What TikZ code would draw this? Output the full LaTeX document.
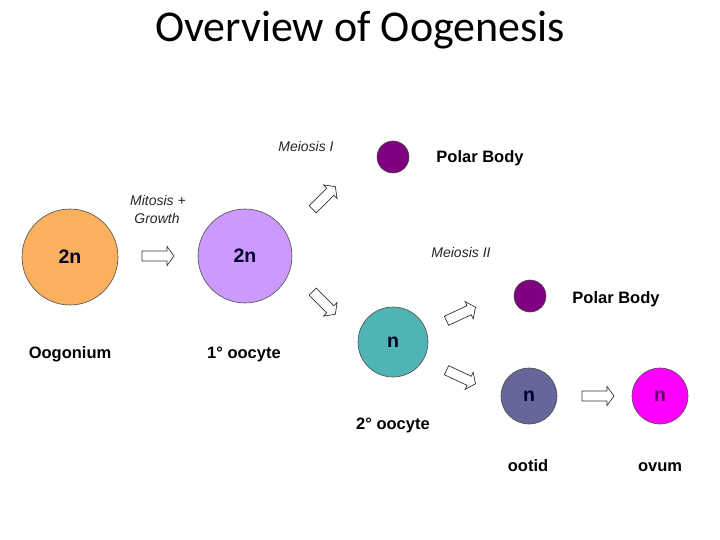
\documentclass[tikz,border=0pt]{standalone}
\usepackage{fontspec}
\setmainfont{Liberation Sans}
\newfontfamily\titlefont{Carlito}
\begin{document}
\begin{tikzpicture}[x=1pt,y=-1pt,
  cell/.style={circle, draw=black!70, line width=0.6pt, inner sep=0pt, font=\fontsize{19.5}{19.5}\selectfont\bfseries, text=black!85!blue},
  lbl/.style={anchor=base, inner sep=0pt, font=\fontsize{16.5}{16.5}\selectfont\bfseries},
  ilbl/.style={anchor=base, inner sep=0pt, font=\fontsize{14}{14}\selectfont\itshape, text=black!85},
  blockarrow/.pic={\draw[black!80, line width=0.7pt, fill=white, line join=miter]
     (-16,-5) -- (9,-5) -- (9,-9.5) -- (16,0) -- (9,9.5) -- (9,5) -- (-16,5) -- cycle;}
]
\useasboundingbox (0,0) rectangle (720,540);
\definecolor{oogc}{RGB}{250,176,92}
\definecolor{primc}{RGB}{204,153,255}
\definecolor{polc}{RGB}{128,0,128}
\definecolor{tealc}{RGB}{80,180,180}
\definecolor{slatec}{RGB}{102,102,153}
\definecolor{ovc}{RGB}{255,0,255}
\definecolor{ovtext}{RGB}{100,0,100}

\node[anchor=base, inner sep=0pt, font=\titlefont\fontsize{44}{44}\selectfont] (title) at (360,42) {Overview of Oogenesis};

% cells
\node[cell, fill=oogc, minimum size=96] (oog) at (70,257) {2n};
\node[cell, fill=primc, minimum size=94] (prim) at (245,256) {2n};
\node[cell, fill=polc, minimum size=32] (pb1) at (393,157) {};
\node[cell, fill=tealc, minimum size=70] (sec) at (393,342) {n};
\node[cell, fill=polc, minimum size=32] (pb2) at (530,296) {};
\node[cell, fill=slatec, minimum size=56] (ootid) at (529,396) {n};
\node[cell, fill=ovc, minimum size=56, text=ovtext] (ovum) at (660,396) {n};

% labels
\node[lbl] (loog) at (70,358) {Oogonium};
\node[lbl] (lprim) at (244,358) {1° oocyte};
\node[lbl] (lpb1) at (480,163) {Polar Body};
\node[lbl] (lpb2) at (616,303) {Polar Body};
\node[lbl] (lsec) at (393,429) {2° oocyte};
\node[lbl] (lootid) at (528,471) {ootid};
\node[lbl] (lovum) at (660,471) {ovum};

\node[ilbl] (mit1) at (158,206) {Mitosis +};
\node[ilbl] (mit2) at (157,224) {Growth};
\node[ilbl] (mei1) at (306,152) {Meiosis I};
\node[ilbl] (mei2) at (461,258) {Meiosis II};

% block arrows
\pic at (158,256) {blockarrow};
\pic[rotate=45] at (324,198) {blockarrow};
\pic[rotate=-45] at (324,303) {blockarrow};
\pic[rotate=25] at (461,314) {blockarrow};
\pic[rotate=-25] at (461,377) {blockarrow};
\pic at (598,396) {blockarrow};
\end{tikzpicture}
\end{document}
